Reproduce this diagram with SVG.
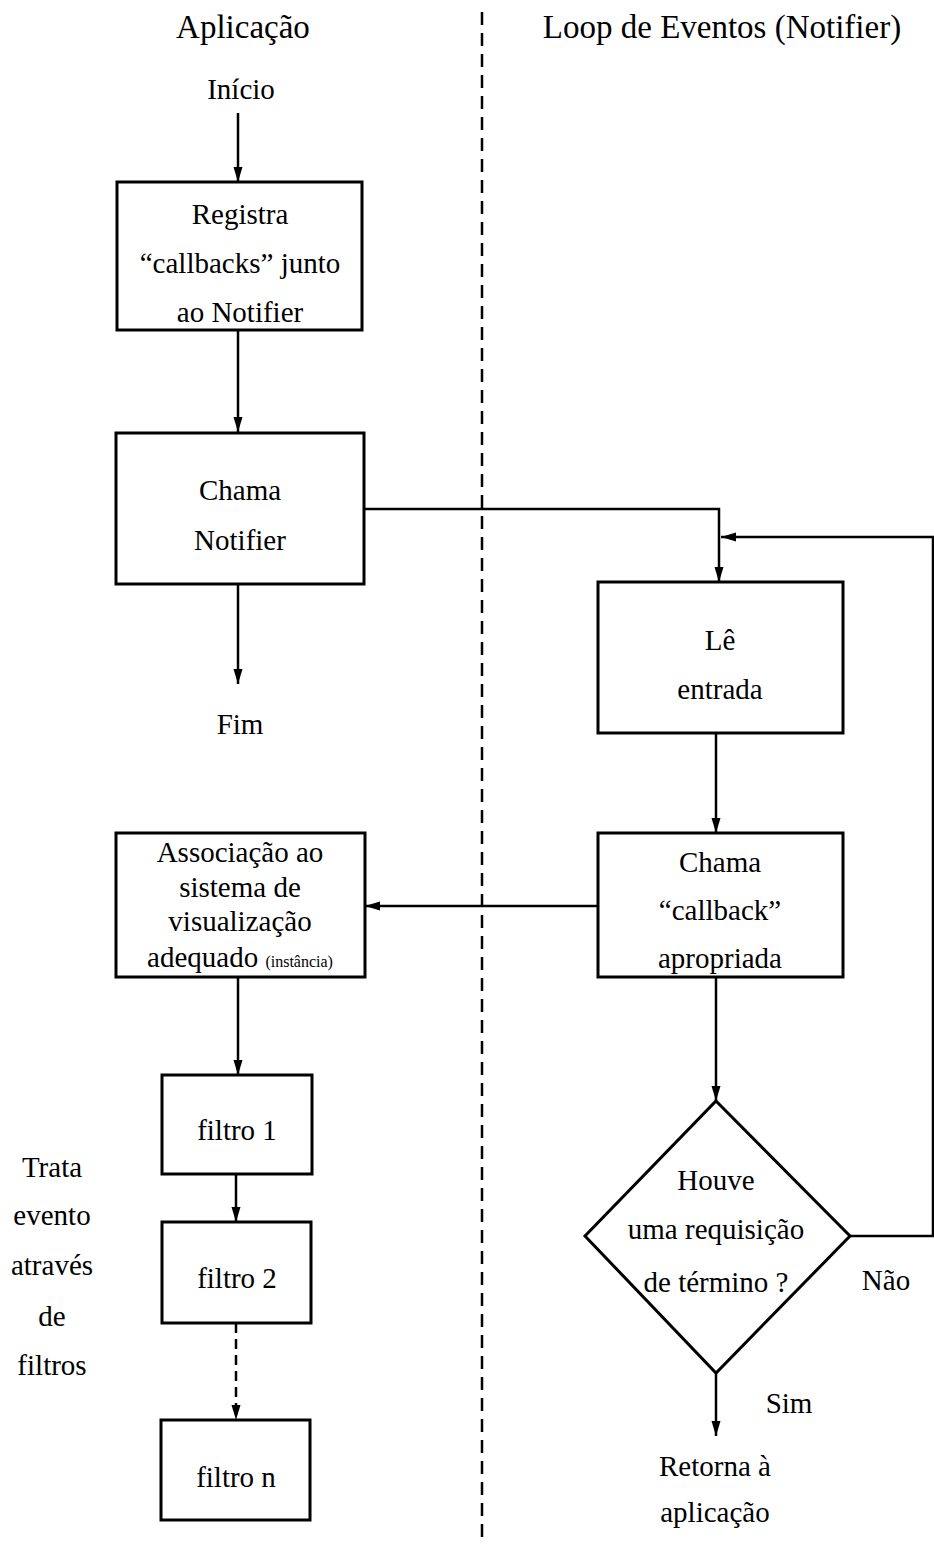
<svg xmlns="http://www.w3.org/2000/svg" width="934" height="1545" viewBox="0 0 934 1545">
<defs>
<marker id="ah" markerUnits="userSpaceOnUse" markerWidth="16" markerHeight="12" viewBox="0 0 16 12" refX="15" refY="6" orient="auto">
<path d="M0,1.5 L15,6 L0,10.5 Z" fill="#000"/>
</marker>
<style>
.t{font-family:"Liberation Serif","Times New Roman",serif;font-size:29px;fill:#000;text-anchor:middle}
.h{font-size:33px}
.s{font-size:16px}
.box{fill:#fff;stroke:#000;stroke-width:3}
.c{fill:none;stroke:#000;stroke-width:2.5}
.d{stroke-dasharray:10 6}
.div{fill:none;stroke:#000;stroke-width:2.5;stroke-dasharray:13 8}
</style>
</defs>
<rect width="934" height="1545" fill="#fff"/>
<g id="titles">
<text class="t h" x="243" y="38">Aplicação</text>
<text class="t h" x="722" y="38">Loop de Eventos (Notifier)</text>
<line class="div" x1="482" y1="12" x2="482" y2="1545"/>
</g>
<g id="connectors">
<line class="c" x1="238" y1="113" x2="238" y2="182" marker-end="url(#ah)"/>
<line class="c" x1="238" y1="330" x2="238" y2="432" marker-end="url(#ah)"/>
<line class="c" x1="238" y1="584" x2="238" y2="684" marker-end="url(#ah)"/>
<polyline class="c" points="364,509 719,509 719,582" marker-end="url(#ah)"/>
<polyline class="c" points="850,1236 933,1236 933,537 721,537" marker-end="url(#ah)"/>
<line class="c" x1="716" y1="733" x2="716" y2="833" marker-end="url(#ah)"/>
<line class="c" x1="598" y1="906" x2="365" y2="906" marker-end="url(#ah)"/>
<line class="c" x1="716" y1="977" x2="716" y2="1101" marker-end="url(#ah)"/>
<line class="c" x1="238" y1="977" x2="238" y2="1075" marker-end="url(#ah)"/>
<line class="c" x1="236" y1="1174" x2="236" y2="1222" marker-end="url(#ah)"/>
<line class="c d" x1="236" y1="1323" x2="236" y2="1420" marker-end="url(#ah)"/>
<line class="c" x1="716" y1="1373" x2="716" y2="1436" marker-end="url(#ah)"/>
</g>
<g id="inicio"><text class="t" x="241" y="99">Início</text></g>
<g id="registra">
<rect class="box" x="117" y="182" width="245" height="148"/>
<text class="t" x="240" y="224">Registra</text>
<text class="t" x="240" y="273">“callbacks” junto</text>
<text class="t" x="240" y="322">ao Notifier</text>
</g>
<g id="chama-notifier">
<rect class="box" x="116" y="433" width="248" height="151"/>
<text class="t" x="240" y="500">Chama</text>
<text class="t" x="240" y="550">Notifier</text>
</g>
<g id="fim"><text class="t" x="240" y="734">Fim</text></g>
<g id="le-entrada">
<rect class="box" x="598" y="582" width="245" height="151"/>
<text class="t" x="720" y="650">Lê</text>
<text class="t" x="720" y="699">entrada</text>
</g>
<g id="chama-callback">
<rect class="box" x="598" y="833" width="245" height="144"/>
<text class="t" x="720" y="872">Chama</text>
<text class="t" x="720" y="920">“callback”</text>
<text class="t" x="720" y="968">apropriada</text>
</g>
<g id="associacao">
<rect class="box" x="116" y="833" width="249" height="144"/>
<text class="t" x="240" y="862">Associação ao</text>
<text class="t" x="240" y="897">sistema de</text>
<text class="t" x="240" y="931">visualização</text>
<text class="t" x="240" y="967">adequado <tspan class="s">(instância)</tspan></text>
</g>
<g id="filtro1">
<rect class="box" x="162" y="1075" width="150" height="99"/>
<text class="t" x="237" y="1140">filtro 1</text>
</g>
<g id="filtro2">
<rect class="box" x="162" y="1222" width="149" height="101"/>
<text class="t" x="237" y="1288">filtro 2</text>
</g>
<g id="filtron">
<rect class="box" x="161" y="1420" width="149" height="100"/>
<text class="t" x="236" y="1487">filtro n</text>
</g>
<g id="trata">
<text class="t" x="52" y="1177">Trata</text>
<text class="t" x="52" y="1225">evento</text>
<text class="t" x="52" y="1275">através</text>
<text class="t" x="52" y="1326">de</text>
<text class="t" x="52" y="1375">filtros</text>
</g>
<g id="decisao">
<polygon class="box" points="716,1101 850,1236 716,1373 585,1236"/>
<text class="t" x="716" y="1190">Houve</text>
<text class="t" x="716" y="1239">uma requisição</text>
<text class="t" x="716" y="1292">de término ?</text>
</g>
<g id="nao"><text class="t" x="886" y="1290">Não</text></g>
<g id="sim"><text class="t" x="789" y="1413">Sim</text></g>
<g id="retorna">
<text class="t" x="715" y="1476">Retorna à</text>
<text class="t" x="715" y="1522">aplicação</text>
</g>
</svg>
